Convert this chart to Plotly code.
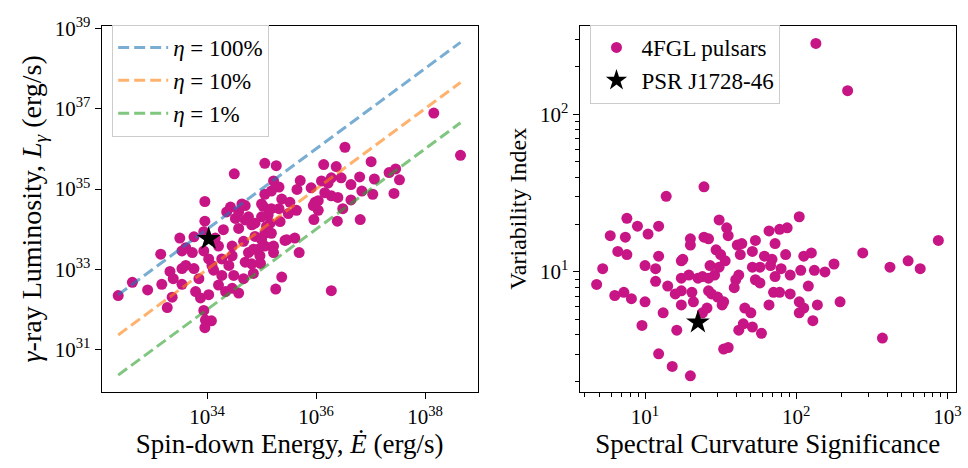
import numpy as np
import plotly.graph_objects as go

# ---------------- Left panel data (log10 values) ----------------
log_edot = [32.37, 32.63, 32.91, 33.15, 33.17, 33.32, 33.38, 33.36, 33.27, 33.50,
            33.54, 33.96, 33.96, 33.94, 33.97, 33.96, 34.08, 35.37, 35.26, 34.58,
            34.82, 35.20, 35.43, 35.61, 35.06, 35.27, 34.50, 38.16, 38.65, 36.53,
            36.14, 36.37, 37.01, 35.71, 35.65, 36.80, 37.07, 37.34, 37.46, 37.53,
            37.43, 37.04, 36.84, 36.64, 36.10, 36.28, 36.46, 35.96, 36.39, 36.81,
            35.69, 36.28, 36.49, 35.64, 36.04, 35.98, 33.76, 34.15, 34.52, 34.70,
            35.06, 35.03, 35.12, 35.18, 35.22, 35.09, 34.82, 34.58, 34.30, 34.88,
            34.46, 34.76, 33.73, 33.61, 34.03, 34.27, 35.06, 34.97, 35.32, 35.91,
            36.22, 36.64, 36.40, 36.28, 36.16, 36.04, 35.95, 35.37, 35.52, 35.49,
            35.32, 35.18, 35.00, 35.00, 35.16, 35.34, 35.06, 35.18, 35.46, 35.22,
            35.00, 33.54, 33.76, 33.79, 33.88, 34.03, 33.85, 34.21, 34.34, 34.46,
            34.67, 34.49, 34.27, 34.09, 33.61, 33.54, 34.46, 34.70, 34.94, 35.22,
            34.85, 34.21, 34.67, 34.40, 33.94, 34.12, 34.58, 34.76, 34.36, 33.94,
            34.85, 34.98, 34.43, 34.64, 34.88, 34.70]
log_lgamma = [32.35, 32.68, 32.49, 33.38, 32.63, 32.95, 32.77, 32.31, 32.05, 33.78,
              32.63, 34.69, 34.20, 31.98, 31.74, 31.55, 31.72, 32.81, 32.51, 32.41,
              33.14, 33.56, 33.72, 33.78, 35.64, 35.58, 35.38, 36.89, 35.84, 36.04,
              35.61, 35.56, 35.68, 35.21, 34.99, 35.30, 35.25, 35.41, 35.50, 35.23,
              34.89, 34.87, 34.95, 34.73, 35.20, 35.28, 35.28, 34.24, 34.20, 34.24,
              33.42, 32.47, 34.51, 34.47, 34.47, 34.67, 33.81, 33.78, 34.27, 34.59,
              34.87, 34.57, 34.35, 34.95, 35.20, 34.07, 34.11, 34.02, 33.99, 33.82,
              33.58, 33.42, 33.42, 33.54, 33.26, 33.26, 33.58, 33.34, 35.05, 35.03,
              35.15, 35.11, 34.79, 34.83, 34.91, 34.71, 34.59, 34.75, 34.67, 34.39,
              34.51, 34.51, 34.63, 34.31, 34.15, 34.19, 33.90, 33.90, 33.74, 33.58,
              33.74, 33.02, 33.02, 32.45, 32.29, 32.37, 32.77, 32.61, 32.45, 32.53,
              32.77, 32.85, 32.85, 33.10, 33.10, 33.46, 33.34, 33.18, 33.50, 33.42,
              33.50, 33.58, 33.70, 33.10, 33.46, 32.98, 34.43, 34.31, 34.43, 33.94,
              32.90, 33.15, 34.55, 34.63, 34.15, 34.23]
star_log_edot = 34.03
star_log_lgamma = 33.76

efficiencies = [1.0, 0.1, 0.01]
eff_labels = ["<i>η</i> = 100%", "<i>η</i> = 10%", "<i>η</i> = 1%"]
eff_colors = ["rgba(31,119,180,0.6)", "rgba(255,127,14,0.6)", "rgba(44,160,44,0.6)"]

# ---------------- Right panel data (log10 values) ----------------
log_curv = [1.14, 1.39, 2.13, 2.34, 0.88, 0.95, 1.09, 0.77, 0.87, 1.02,
            0.82, 0.88, 1.09, 0.72, 1.00, 1.07, 1.07, 0.68, 0.80, 0.86,
            0.91, 1.00, 1.15, 1.20, 1.24, 1.24, 1.31, 1.32, 1.24, 1.25,
            1.24, 1.29, 1.35, 1.38, 1.30, 1.30, 1.39, 1.42, 1.12, 0.98,
            1.21, 1.09, 1.18, 1.30, 1.41, 1.38, 1.49, 1.54, 1.55, 1.47,
            1.50, 1.53, 1.43, 1.49, 1.46, 1.42, 1.42, 1.44, 1.48, 1.52,
            1.51, 1.52, 1.55, 1.61, 1.63, 1.64, 1.71, 1.73, 1.71, 1.76,
            1.73, 1.76, 1.62, 1.60, 1.59, 1.66, 1.70, 1.62, 1.65, 1.71,
            1.77, 1.79, 2.02, 1.82, 1.89, 1.94, 1.86, 1.84, 1.93, 2.05,
            2.10, 1.83, 1.90, 2.03, 2.12, 2.19, 2.25, 1.86, 1.96, 2.08,
            1.85, 1.89, 1.96, 1.82, 2.02, 2.05, 2.02, 2.14, 2.11, 2.29,
            2.44, 2.62, 2.74, 2.82, 2.94, 2.57]
log_var = [1.48, 1.54, 2.45, 2.15, 1.34, 1.29, 1.29, 1.23, 1.22, 1.24,
           1.13, 1.11, 1.10, 1.02, 1.04, 1.02, 0.94, 0.92, 0.85, 0.87,
           0.83, 0.81, 0.91, 0.86, 0.88, 0.79, 0.87, 0.81, 1.07, 1.08,
           0.96, 0.98, 0.96, 0.97, 1.21, 1.17, 1.22, 1.21, 0.74, 0.66,
           0.63, 0.48, 0.40, 0.34, 0.77, 0.74, 1.33, 1.28, 1.23, 1.14,
           1.11, 1.07, 1.04, 1.03, 0.98, 0.96, 0.88, 0.86, 0.84, 0.81,
           0.79, 0.51, 0.52, 1.17, 1.11, 1.18, 1.13, 1.20, 1.03, 1.03,
           0.95, 0.93, 0.98, 0.95, 0.90, 0.77, 0.74, 0.63, 0.67, 0.65,
           0.61, 1.10, 1.35, 1.26, 1.27, 1.28, 1.18, 1.08, 1.11, 1.10,
           1.12, 1.04, 1.02, 1.01, 1.01, 1.00, 1.05, 0.97, 0.98, 0.91,
           0.87, 0.87, 0.86, 0.79, 0.81, 0.77, 0.74, 0.79, 0.69, 0.81,
           1.12, 1.03, 1.07, 1.02, 1.20, 0.58]
star_log_curv = 1.35
star_log_var = 0.68

MAGENTA = "#C71585"
FONT = "Liberation Serif"
TICK_SIZE = 21
LEG_SIZE = 23

fig = go.Figure()

edot = 10 ** np.array(log_edot)
lg = 10 ** np.array(log_lgamma)
fig.add_trace(go.Scatter(x=edot, y=lg, mode="markers", xaxis="x", yaxis="y",
                         marker=dict(color=MAGENTA, size=11, line=dict(width=0)),
                         showlegend=False, hoverinfo="skip"))
e_line = np.array([edot.min(), edot.max()])
for i, (eff, lab, col) in enumerate(zip(efficiencies, eff_labels, eff_colors)):
    fig.add_trace(go.Scatter(x=e_line, y=eff * e_line, mode="lines", xaxis="x", yaxis="y",
                             line=dict(color=col, width=3, dash="11px,5px"),
                             name=lab, legend="legend", legendgroup=f"g{i}"))
fig.add_trace(go.Scatter(x=[10 ** star_log_edot], y=[10 ** star_log_lgamma], mode="markers",
                         xaxis="x", yaxis="y",
                         marker=dict(symbol="star", color="black", size=18, line=dict(width=0)),
                         showlegend=False))

fig.add_trace(go.Scatter(x=10 ** np.array(log_curv), y=10 ** np.array(log_var), mode="markers",
                         xaxis="x2", yaxis="y2", name="4FGL pulsars", legend="legend2",
                         legendgroup="r1",
                         marker=dict(color=MAGENTA, size=11, line=dict(width=0))))
fig.add_trace(go.Scatter(x=[10 ** star_log_curv], y=[10 ** star_log_var], mode="markers",
                         xaxis="x2", yaxis="y2", name="PSR J1728-46", legend="legend2",
                         legendgroup="r2",
                         marker=dict(symbol="star", color="black", size=18, line=dict(width=0))))

def sup(e):
    return f"10<sup>{e}</sup>"

axis_common = dict(showline=True, mirror=True, linecolor="black", linewidth=1.3,
                   showgrid=False, zeroline=False, ticks="outside", ticklen=6,
                   tickwidth=1.2, tickcolor="black", type="log",
                   tickfont=dict(family=FONT, size=TICK_SIZE, color="black"))

minor_x2 = [v * m for m in (1, 10, 100) for v in range(2, 10) if 3.7 < v * m < 1135]
minor_y2 = [v * m for m in (1, 10, 100) for v in range(2, 10) if 1.73 < v * m < 365]

fig.update_layout(
    width=968, height=468, margin=dict(l=0, r=0, t=0, b=0),
    plot_bgcolor="white", paper_bgcolor="white",
    font=dict(family=FONT, color="black"),
    xaxis=dict(axis_common, domain=[0.1057, 0.4966], anchor="y",
               range=[32.067, 38.966], tickmode="array",
               tickvals=[1e34, 1e36, 1e38], ticktext=[sup(34), sup(36), sup(38)],
               title=dict(text="Spin-down Energy, <i>E\u0307</i> (erg/s)",
                          font=dict(size=27), standoff=3)),
    yaxis=dict(axis_common, domain=[0.1667, 0.970], anchor="x",
               range=[29.95, 39.065], tickmode="array",
               tickvals=[1e31, 1e33, 1e35, 1e37, 1e39],
               ticktext=[sup(31), sup(33), sup(35), sup(37), sup(39)],
               title=dict(text="<i>γ</i>-ray Luminosity, <i>L<sub>γ</sub></i> (erg/s)",
                          font=dict(size=28), standoff=4)),
    xaxis2=dict(axis_common, domain=[0.6026, 0.9935], anchor="y2",
                range=[0.568, 3.055], tickmode="array",
                tickvals=[10, 100, 1000], ticktext=[sup(1), sup(2), sup(3)],
                minor=dict(ticks="outside", ticklen=3.5, tickwidth=1, tickcolor="black",
                           tickmode="array", tickvals=minor_x2),
                title=dict(text="Spectral Curvature Significance",
                           font=dict(size=27), standoff=3)),
    yaxis2=dict(axis_common, domain=[0.1667, 0.970], anchor="x2",
                range=[0.2375, 2.563], tickmode="array",
                tickvals=[10, 100], ticktext=[sup(1), sup(2)],
                minor=dict(ticks="outside", ticklen=3.5, tickwidth=1, tickcolor="black",
                           tickmode="array", tickvals=minor_y2),
                title=dict(text="Variability Index", font=dict(size=24), standoff=6)),
    legend=dict(x=0.1164, y=0.972, xanchor="left", yanchor="top",
                bordercolor="#cccccc", borderwidth=1.2, bgcolor="rgba(255,255,255,0.85)",
                font=dict(family=FONT, size=LEG_SIZE, color="black"),
                traceorder="grouped", tracegroupgap=0, itemwidth=50),
    legend2=dict(x=0.6136, y=0.972, xanchor="left", yanchor="top",
                 bordercolor="#cccccc", borderwidth=1.2, bgcolor="rgba(255,255,255,0.85)",
                 font=dict(family=FONT, size=LEG_SIZE, color="black"),
                 traceorder="grouped", tracegroupgap=0, itemwidth=40),
)

fig.write_html("out.html")
